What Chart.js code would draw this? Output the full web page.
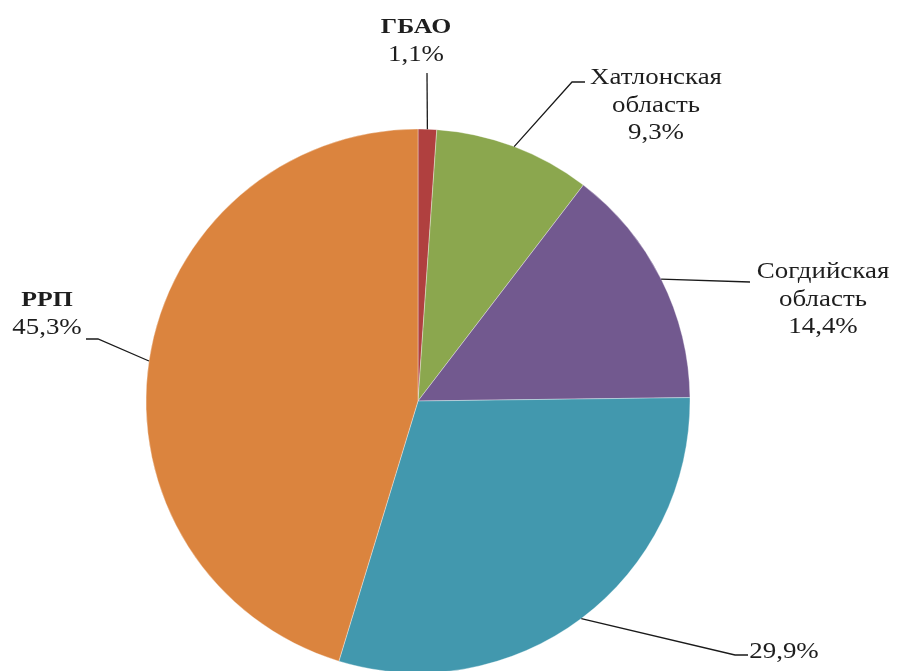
<!DOCTYPE html>
<html>
<head>
<meta charset="utf-8">
<script src="https://cdn.jsdelivr.net/npm/chart.js@4"></script>
<style>
html,body{margin:0;padding:0;background:#fff;overflow:hidden;}
#wrap{width:898px;height:671px;position:relative;}
</style>
</head>
<body>
<div id="wrap"><canvas id="c" width="898" height="671"></canvas></div>
<script>
const categories = ['ГБАО', 'Хатлонская область', 'Согдийская область', '', 'РРП'];
const values = [1.1, 9.3, 14.4, 29.9, 45.3];
const valueLabels = ['1,1%', '9,3%', '14,4%', '29,9%', '45,3%'];
const colors = ['#B0403F', '#8BA74E', '#72598F', '#4298AE', '#DB843E'];

// label layout: text lines (name lines + value), boldness, first-line center offset from pie center, elbow points
const labelLayout = [
  {lines:[['ГБАО',true],[valueLabels[0],false]], tx:-2, ty:-374, path:[[9,-328]]},
  {lines:[['Хатлонская',false],['область',false],[valueLabels[1],false]], tx:238, ty:-323, path:[[154,-319],[167,-319]]},
  {lines:[['Согдийская',false],['область',false],[valueLabels[2],false]], tx:405, ty:-129, path:[[332,-119]]},
  {lines:[[valueLabels[3],false]], tx:366, ty:251, path:[[317,254],[330,254]]},
  {lines:[['РРП',true],[valueLabels[4],false]], tx:-371, ty:-101, path:[[-320,-62],[-332,-62]]}
];

const labelPlugin = {
  id: 'leaderLabels',
  afterDatasetsDraw(chart) {
    const ctx = chart.ctx;
    const meta = chart.getDatasetMeta(0);
    meta.data.forEach((arc, i) => {
      const L = labelLayout[i];
      const cx = arc.x, cy = arc.y;
      const mid = (arc.startAngle + arc.endAngle) / 2;
      const ax = cx + Math.cos(mid) * arc.outerRadius;
      const ay = cy + Math.sin(mid) * arc.outerRadius;
      ctx.save();
      ctx.strokeStyle = '#1a1a1a';
      ctx.lineWidth = 1.3;
      ctx.beginPath();
      ctx.moveTo(ax, ay);
      L.path.forEach(p => ctx.lineTo(cx + p[0], cy + p[1]));
      ctx.stroke();
      const lh = 27.5;
      const startY = cy + L.ty;
      ctx.textAlign = 'center';
      ctx.textBaseline = 'middle';
      ctx.fillStyle = '#1e1e1e';
      L.lines.forEach((ln, k) => {
        ctx.save();
        ctx.translate(cx + L.tx, startY + k * lh);
        ctx.scale(1.17, 1);
        ctx.font = (ln[1] ? 'bold 22px' : '23px') + ' "Liberation Serif", "Times New Roman", serif';
        ctx.fillText(ln[0], 0, 0);
        ctx.restore();
      });
      ctx.restore();
    });
  }
};

new Chart(document.getElementById('c'), {
  type: 'pie',
  data: {
    labels: categories,
    datasets: [{
      data: values,
      backgroundColor: colors,
      borderColor: 'rgba(255,255,255,0.5)',
      borderWidth: 0.7,
      radius: 272
    }]
  },
  options: {
    responsive: false,
    animation: false,
    layout: {padding: {top: 131, bottom: 0, left: 0, right: 62}},
    plugins: {legend: {display: false}, tooltip: {enabled: false}}
  },
  plugins: [labelPlugin]
});
</script>
</body>
</html>
